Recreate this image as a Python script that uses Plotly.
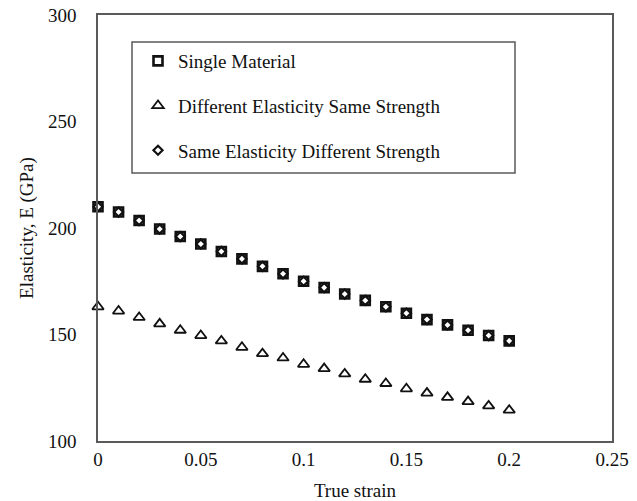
import plotly.graph_objects as go

# True strain values (step 0.01 from 0 to 0.2)
strain = [0.00, 0.01, 0.02, 0.03, 0.04, 0.05, 0.06, 0.07, 0.08, 0.09, 0.10,
          0.11, 0.12, 0.13, 0.14, 0.15, 0.16, 0.17, 0.18, 0.19, 0.20]

# Elasticity (GPa) for each configuration
single_material = [210, 207.5, 203.5, 199.5, 196, 192.5, 189, 185.5, 182, 178.5, 175,
                   172, 169, 166, 163, 160, 157, 154.5, 152, 149.5, 147]
diff_elast_same_strength = [163, 161, 158, 155, 152, 149.5, 147, 144, 141, 139, 136,
                            134, 131.5, 129, 127, 124.5, 122.5, 120.5, 118.5, 116.5, 114.5]
same_elast_diff_strength = [210, 207.5, 203.5, 199.5, 196, 192.5, 189, 185.5, 182, 178.5, 175,
                            172, 169, 166, 163, 160, 157, 154.5, 152, 149.5, 147]

x_ticks = [0, 0.05, 0.1, 0.15, 0.2, 0.25]
x_labels = ["0", "0.05", "0.1", "0.15", "0.2", "0.25"]
y_ticks = [100, 150, 200, 250, 300]

FONT = "Liberation Serif, Times New Roman, serif"
INK = "#111111"
FRAME = "#5a5a5a"
FS = 19

fig = go.Figure()

series = [
    ("Single Material", single_material, "square-open", 9, 2.6),
    ("Different Elasticity Same Strength", diff_elast_same_strength, "triangle-up-open", 10, 1.8),
    ("Same Elasticity Different Strength", same_elast_diff_strength, "diamond-open", 7, 2.2),
]

for i, (name, ys, sym, size, lw) in enumerate(series):
    fig.add_trace(go.Scatter(
        x=strain, y=ys, mode="markers", name=name,
        legendgroup=f"g{i}",
        marker=dict(symbol=sym, size=size, color=INK, line=dict(width=lw, color=INK)),
        cliponaxis=False,
    ))

# Legend frame
L, R, T, B = 98, 612, 15, 441
fig.add_shape(type="rect", xref="paper", yref="paper",
              x0=(132 - L) / (R - L), x1=(515 - L) / (R - L),
              y0=(B - 173) / (B - T), y1=(B - 42) / (B - T),
              line=dict(color=FRAME, width=1.5), fillcolor="rgba(0,0,0,0)")

fig.update_layout(
    width=637, height=501,
    margin=dict(l=L, r=637 - R, t=T, b=501 - B),
    paper_bgcolor="white", plot_bgcolor="white",
    font=dict(family=FONT, size=FS, color=INK),
    showlegend=True,
    legend=dict(
        x=(138 - L) / (R - L), y=(B - 42) / (B - T), xanchor="left", yanchor="top",
        bgcolor="rgba(0,0,0,0)", borderwidth=0,
        font=dict(family=FONT, size=FS, color=INK),
        tracegroupgap=17, itemwidth=30,
    ),
    xaxis=dict(
        range=[0, 0.25], tickvals=x_ticks, ticktext=x_labels,
        showgrid=False, zeroline=False, ticks="", automargin=False,
        showline=True, mirror=True, linecolor=FRAME, linewidth=1.5,
        title=dict(text="True strain", font=dict(family=FONT, size=FS), standoff=18),
        tickfont=dict(family=FONT, size=FS),
    ),
    yaxis=dict(
        range=[100, 300], tickvals=y_ticks,
        showgrid=False, zeroline=False, ticks="", automargin=False,
        showline=True, mirror=True, linecolor=FRAME, linewidth=1.5,
        title=dict(text="Elasticity, E (GPa)", font=dict(family=FONT, size=FS), standoff=9),
        tickfont=dict(family=FONT, size=FS),
        ticklabelstandoff=16,
    ),
)

fig.write_html("out.html")
